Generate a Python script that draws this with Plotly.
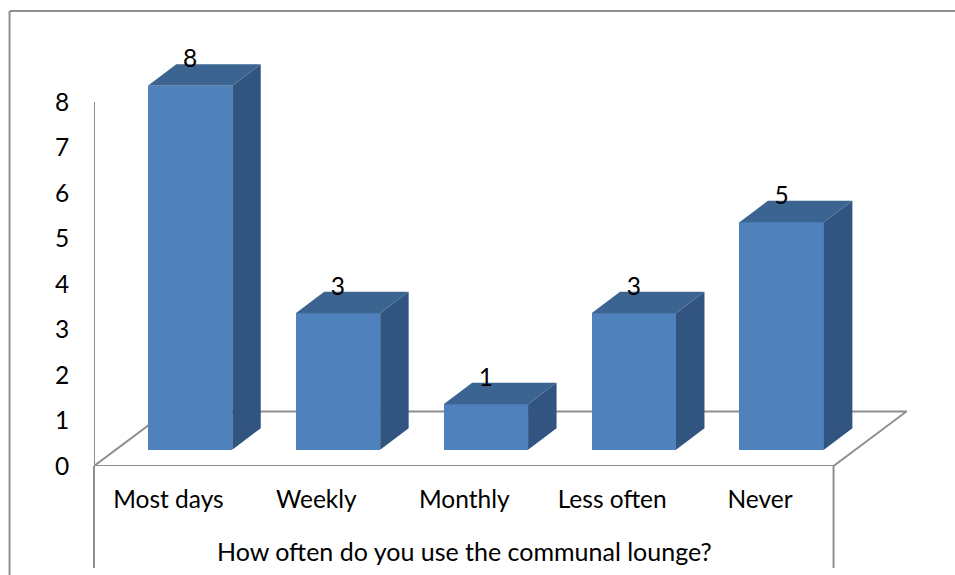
import plotly.graph_objects as go

categories = ["Most days", "Weekly", "Monthly", "Less often", "Never"]
values = [8, 3, 1, 3, 5]
y_ticks = [0, 1, 2, 3, 4, 5, 6, 7, 8]
x_title = "How often do you use the communal lounge?"

W, H = 955, 575
L, R, B = 93.5, 48, 109
PW, PH = W - L - R, H - B
PX_CAT = 148.0
PX_UNIT = 45.5

FONT = "Lato"
FRONT, TOP, SIDE = "#4F81BD", "#3C6491", "#325480"
GRAY = "#8E8E8E"

x0 = (L - 168) / PX_CAT            # category index at plot left
x1 = x0 + PW / PX_CAT
y_top = PH / PX_UNIT

base = 16.3 / PX_UNIT              # front plane of bars above the axis zero
shift = 21.6 / PX_CAT              # bars sit back from category centre
bw = 84.5 / PX_CAT
dx, dy = 28.5 / PX_CAT, 21.5 / PX_UNIT
floor_dx, floor_dy = 73 / PX_CAT, 54.5 / PX_UNIT

xs = [i + shift for i in range(len(values))]

side_x, side_y, top_x, top_y = [], [], [], []
for c, v in zip(xs, values):
    l, r, t = c - bw / 2, c + bw / 2, base + v
    side_x += [r, r + dx, r + dx, r, r, None]
    side_y += [base, base + dy, t + dy, t, base, None]
    top_x += [l, l + dx, r + dx, r, l, None]
    top_y += [t, t + dy, t + dy, t, t, None]

fig = go.Figure()
fig.add_bar(x=xs, y=values, base=base, width=bw, marker=dict(color=FRONT, line=dict(width=0)),
            showlegend=False, hoverinfo="skip")
fig.add_scatter(x=side_x, y=side_y, mode="lines", fill="toself", fillcolor=SIDE,
                line=dict(width=0), showlegend=False, hoverinfo="skip")
fig.add_scatter(x=top_x, y=top_y, mode="lines", fill="toself", fillcolor=TOP,
                line=dict(width=0), showlegend=False, hoverinfo="skip")
fig.add_scatter(x=xs, y=[base + v + 0.54 for v in values], mode="text",
                text=[str(v) for v in values], textposition="middle center",
                textfont=dict(family=FONT, size=24.5, color="#000"),
                showlegend=False, hoverinfo="skip")

line = dict(color=GRAY, width=2)
shapes = [
    # floor
    dict(type="path", xref="x", yref="y", layer="below", line=line,
         path=f"M {x0} 0 L {x0 + 5} 0 L {x0 + 5 + floor_dx} {floor_dy} L {x0 + floor_dx} {floor_dy} Z"),
    # value axis
    dict(type="line", xref="x", yref="y", x0=x0, x1=x0, y0=0, y1=y_ticks[-1], line=line),
    # front drops below the floor
    dict(type="line", xref="paper", yref="paper", x0=0, x1=0, y0=0, y1=-102 / PH, line=line),
    dict(type="line", xref="paper", yref="paper", x0=740 / PW, x1=740 / PW, y0=0, y1=-102 / PH, line=line),
    # outer frame (top and left visible)
    dict(type="line", xref="paper", yref="paper", x0=(9 - L) / PW, x1=(9 - L) / PW,
         y0=-B / PH, y1=(PH - 11) / PH, line=dict(color=GRAY, width=2)),
    dict(type="line", xref="paper", yref="paper", x0=(9 - L) / PW, x1=(W - L) / PW,
         y0=(PH - 11) / PH, y1=(PH - 11) / PH, line=dict(color=GRAY, width=2)),
]

fig.update_layout(
    width=W, height=H, autosize=False,
    margin=dict(l=L, r=R, t=0, b=B, pad=0),
    paper_bgcolor="white", plot_bgcolor="rgba(0,0,0,0)",
    shapes=shapes, bargap=0,
    font=dict(family=FONT, size=24, color="#000"),
    annotations=[dict(text=x_title, xref="x", yref="paper", x=2.0, y=-(551 - PH) / PH,
                      xanchor="center", yanchor="middle", showarrow=False,
                      font=dict(family=FONT, size=25, color="#000"))],
    xaxis=dict(range=[x0, x1], tickmode="array", tickvals=list(range(len(categories))),
               ticktext=categories, showgrid=False, zeroline=False, showline=False,
               ticks="outside", ticklen=12, tickcolor="rgba(0,0,0,0)",
               tickfont=dict(family=FONT, size=24.5, color="#000")),
    yaxis=dict(range=[0, y_top], tickmode="array", tickvals=y_ticks,
               showgrid=False, zeroline=False, showline=False,
               ticks="outside", ticklen=19, tickcolor="rgba(0,0,0,0)",
               tickfont=dict(family=FONT, size=24.5, color="#000")),
)
fig.write_html("out.html", config={"displayModeBar": False},
               post_script="document.body.style.margin='0';document.documentElement.style.overflow='hidden';")
